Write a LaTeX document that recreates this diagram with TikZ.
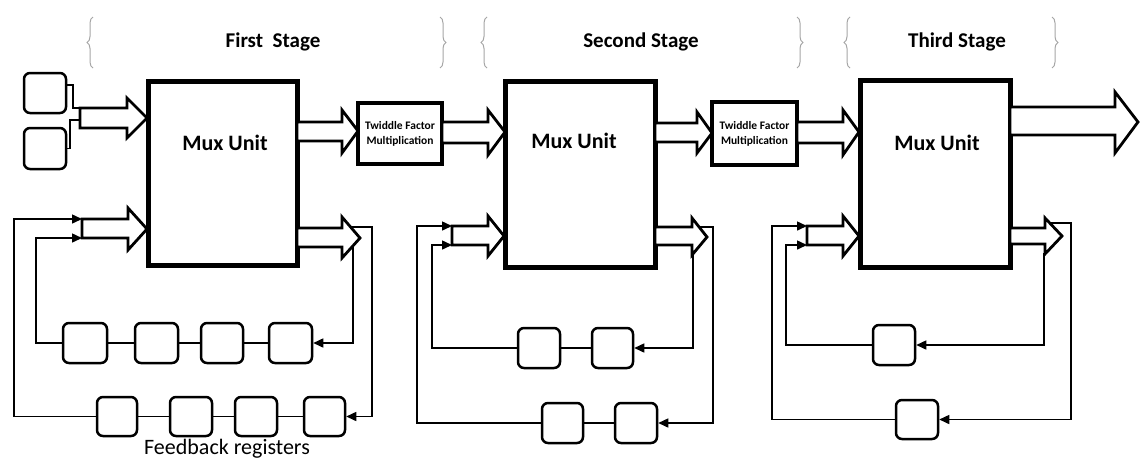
\documentclass[tikz,border=0pt]{standalone}
\usepackage{fontspec}
\setmainfont{Carlito}
\usetikzlibrary{arrows.meta,decorations.pathreplacing}
\tikzset{
  muxbox/.style={draw, line width=5pt, inner sep=0pt},
  muxlabel/.style={font=\fontsize{22}{24}\selectfont\bfseries},
  stagelabel/.style={font=\fontsize{21}{24}\selectfont\bfseries},
  twbox/.style={draw, line width=4pt, inner sep=0pt, align=center,
    font=\fontsize{11.5}{15}\selectfont\bfseries},
  reg/.style={draw, line width=2.5pt, rounded corners=6pt, inner sep=0pt},
  blk/.style={draw, line width=2.8pt, line join=miter, fill=white},
  fb/.style={draw, line width=1.5pt},
  fbarrow/.style={fb, -{Triangle[length=10pt,width=9pt]}},
  stagebrace/.style={draw=black!35, line width=1pt,
    decorate, decoration={brace, amplitude=6pt}},
}
\newcommand{\blockarrow}[8]{%
  \draw[blk] (#1,#4) -- (#2,#4) -- (#2,#6) -- (#3,#8) -- (#2,#7) -- (#2,#5) -- (#1,#5) -- cycle;}
\begin{document}
\begin{tikzpicture}[x=1pt,y=-1pt]
\useasboundingbox (0,0) rectangle (1142,464);
\fill[white] (0,0) rectangle (1142,464);

% stage headers
\draw[stagebrace] (93,68) -- (93,17);
\draw[stagebrace] (440,17) -- (440,68);
\draw[stagebrace] (487,68) -- (487,17);
\draw[stagebrace] (797,17) -- (797,68);
\draw[stagebrace] (850,68) -- (850,17);
\draw[stagebrace] (1052,17) -- (1052,68);
\node[stagelabel] (st1) at (273,42) {First\ \ Stage};
\node[stagelabel] (st2) at (641,42) {Second Stage};
\node[stagelabel] (st3) at (957,42) {Third Stage};

% mux units
\node[muxbox, minimum width=149pt, minimum height=184pt] (m1) at (222.5,173) {};
\node[muxbox, minimum width=150pt, minimum height=186pt] (m2) at (580,174) {};
\node[muxbox, minimum width=150pt, minimum height=187pt] (m3) at (935,173.5) {};
\node[muxlabel] (m1t) at (225,143) {Mux Unit};
\node[muxlabel] (m2t) at (574,141) {Mux Unit};
\node[muxlabel] (m3t) at (937,143) {Mux Unit};

% twiddle boxes
\node[twbox, minimum width=84pt, minimum height=61pt] (tw1) at (400,133.5) {Twiddle Factor\\Multiplication};
\node[twbox, minimum width=85pt, minimum height=63pt] (tw2) at (754.5,133.5) {Twiddle Factor\\Multiplication};

% block arrows
\blockarrow{80}{127}{147}{108}{128}{98}{138}{118}
\blockarrow{82}{128}{147}{219}{238}{208}{250}{229}
\blockarrow{297}{342}{358}{122}{141}{110}{153}{131}
\blockarrow{297}{342}{360}{228}{247}{217}{258}{238}
\blockarrow{442}{488}{505}{122}{143}{110}{155}{132}
\blockarrow{452}{488}{504}{226}{245}{216}{256}{236}
\blockarrow{655}{697}{712}{123}{142}{112}{153}{133}
\blockarrow{655}{692}{707}{227}{245}{218}{255}{237}
\blockarrow{797}{843}{859}{122}{143}{110}{155}{132}
\blockarrow{1010}{1115}{1138}{107}{135}{92}{153}{122}
\blockarrow{807}{843}{859}{226}{245}{216}{256}{236}
\blockarrow{1010}{1045}{1062}{228}{244}{218}{254}{236}

% arrow end points
\coordinate (a1top) at (80,108);
\coordinate (a1mid) at (80,120);
\coordinate (a2top) at (82,219);
\coordinate (a2bot) at (82,238);
\coordinate (o1) at (351,227);
\coordinate (i1) at (353,247);
\coordinate (a6top) at (452,226);
\coordinate (a6bot) at (452,245);
\coordinate (o2) at (699,227);
\coordinate (i2) at (693,253);
\coordinate (a11top) at (807,226);
\coordinate (a11bot) at (807,245);
\coordinate (o3) at (1050,223);
\coordinate (i3) at (1044,253);

% input registers
\node[reg, minimum width=42pt, minimum height=40pt] (in1) at (45,93) {};
\node[reg, minimum width=42pt, minimum height=41pt] (in2) at (45,148.5) {};
\draw[fb] ([yshift=8pt]in1.east) -| (73,108) -- (a1top);
\draw[fb] (in2.east) -| (70,120) -- (a1mid);

% stage 1 feedback registers
\node[reg, minimum width=44pt, minimum height=40pt] (r1a) at (85,343) {};
\node[reg, minimum width=43pt, minimum height=40pt] (r1b) at (156.5,343) {};
\node[reg, minimum width=42pt, minimum height=40pt] (r1c) at (222,343) {};
\node[reg, minimum width=43pt, minimum height=40pt] (r1d) at (290.5,343) {};
\node[reg, minimum width=40pt, minimum height=39pt] (s1a) at (117,416.5) {};
\node[reg, minimum width=42pt, minimum height=39pt] (s1b) at (191,416.5) {};
\node[reg, minimum width=42pt, minimum height=39pt] (s1c) at (256,416.5) {};
\node[reg, minimum width=41pt, minimum height=39pt] (s1d) at (324.5,416.5) {};
\draw[fb] (r1a) -- (r1b) (r1b) -- (r1c) (r1c) -- (r1d);
\draw[fb] (s1a) -- (s1b) (s1b) -- (s1c) (s1c) -- (s1d);
\draw[fbarrow] (o1) -- (372,227) |- (s1d.east);
\draw[fbarrow] (s1a.west) -| (14,219) -- (a2top);
\draw[fbarrow] (i1) |- (r1d.east);
\draw[fbarrow] (r1a.west) -| (36,238) -- (a2bot);
\node[font=\fontsize{22}{24}\selectfont] (fbl) at (227,449) {Feedback registers};

% stage 2 feedback registers
\node[reg, minimum width=42pt, minimum height=40pt] (r2a) at (539,348) {};
\node[reg, minimum width=41pt, minimum height=40pt] (r2b) at (612.5,348) {};
\node[reg, minimum width=41pt, minimum height=40pt] (s2a) at (562.5,423) {};
\node[reg, minimum width=42pt, minimum height=40pt] (s2b) at (636,423) {};
\draw[fb] (r2a) -- (r2b);
\draw[fb] (s2a) -- (s2b);
\draw[fbarrow] (o2) -- (713,227) |- (s2b.east);
\draw[fbarrow] (s2a.west) -| (417,226) -- (a6top);
\draw[fbarrow] (i2) |- (r2b.east);
\draw[fbarrow] (r2a.west) -| (432,245) -- (a6bot);

% stage 3 feedback registers
\node[reg, minimum width=42pt, minimum height=40pt] (r3) at (894,345) {};
\node[reg, minimum width=42pt, minimum height=39pt] (s3) at (917,419.5) {};
\draw[fbarrow] (o3) -- (1071,223) |- (s3.east);
\draw[fbarrow] (s3.west) -| (772,226) -- (a11top);
\draw[fbarrow] (i3) |- (r3.east);
\draw[fbarrow] (r3.west) -| (786,245) -- (a11bot);
\end{tikzpicture}
\end{document}
